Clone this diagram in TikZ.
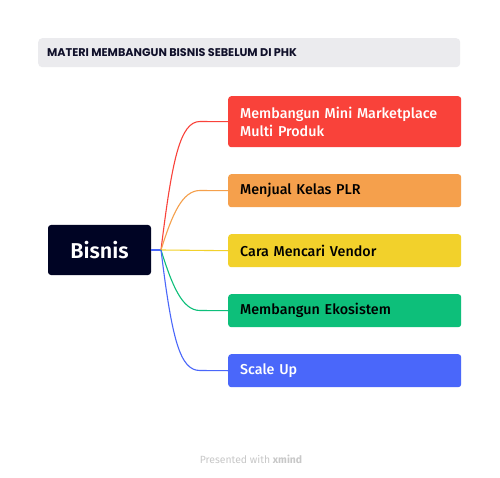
\documentclass[tikz,border=0pt]{standalone}
\usepackage{fontspec}
\setmainfont{Fira Sans}[UprightFont=* Medium, BoldFont=* SemiBold]
\newfontfamily\titlefont{Poppins}
\newfontfamily\footfont{Fira Sans}
\definecolor{titlebg}{HTML}{EBEBEE}
\definecolor{titletext}{HTML}{10102A}
\definecolor{rootbg}{HTML}{000424}
\definecolor{cred}{HTML}{F9423A}
\definecolor{corange}{HTML}{F5A04C}
\definecolor{cyellow}{HTML}{F2D12B}
\definecolor{cgreen}{HTML}{0DBF7A}
\definecolor{cblue}{HTML}{4A67FA}
\definecolor{footgray}{HTML}{C8C8C8}
\begin{document}
\begin{tikzpicture}[x=1pt,y=-1pt,
  topic/.style={rounded corners=3pt, minimum width=233pt, text width=209pt, align=left, anchor=north west, inner xsep=12pt, font=\fontsize{14.3}{18}\selectfont},
  conn/.style={line width=1.1pt}]
\useasboundingbox (0,0) rectangle (500,478);
\fill[white] (0,0) rectangle (500,478);
% title
\node[fill=titlebg, rounded corners=4pt, minimum width=422pt, minimum height=29pt, anchor=north west, inner sep=0pt] (title) at (38,38) {};
\node[anchor=west, text=titletext, font=\titlefont\bfseries\fontsize{11.2}{13}\selectfont, inner sep=0pt] (titletxt) at (47,52.5) {MATERI MEMBANGUN BISNIS SEBELUM DI PHK};
% root
\node[fill=rootbg, rounded corners=3pt, minimum width=103pt, minimum height=50pt, text=white, font=\bfseries\fontsize{21.5}{24}\selectfont, inner sep=0pt] (root) at (99.5,250) {Bisnis};
% topics
\node[topic, fill=cred, text=white, minimum height=51pt] (t1) at (228,96) {Membangun Mini Marketplace\\Multi Produk};
\node[topic, fill=corange, text=black, minimum height=33pt] (t2) at (228,174) {Menjual Kelas PLR};
\node[topic, fill=cyellow, text=black, minimum height=33pt] (t3) at (228,234) {Cara Mencari Vendor};
\node[topic, fill=cgreen, text=black, minimum height=33pt] (t4) at (228,294) {Membangun Ekosistem};
\node[topic, fill=cblue, text=white, minimum height=33pt] (t5) at (228,354) {Scale Up};
\coordinate (hub) at (161,250);
\draw[conn, cblue] (root.east) -- (hub);
\draw[conn, cred] (hub) .. controls (172,160) and (180,121.5) .. (200,121.5) -- (t1.west);
\draw[conn, corange] (hub) .. controls (172,215) and (182,190.5) .. (200,190.5) -- (t2.west);
\draw[conn, cyellow] (hub) -- (t3.west);
\draw[conn, cgreen] (hub) .. controls (172,285) and (182,310.5) .. (200,310.5) -- (t4.west);
\draw[conn, cblue] (hub) .. controls (172,340) and (180,370.5) .. (200,370.5) -- (t5.west);
% footer
\node[font=\footfont\fontsize{10.4}{12}\selectfont, text=footgray, inner sep=0pt] (foot) at (251,459) {Presented with \textbf{xmind}};
\end{tikzpicture}
\end{document}
